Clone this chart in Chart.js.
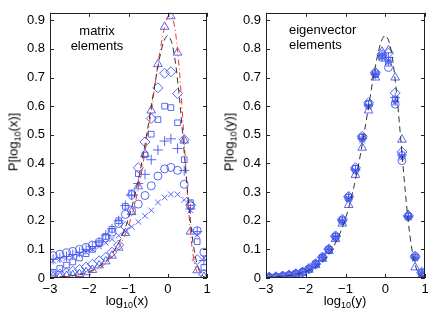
<!DOCTYPE html>
<html>
<head>
<meta charset="utf-8">
<script src="https://cdn.jsdelivr.net/npm/chart.js@4.4.1/dist/chart.umd.min.js"></script>
<style>
  html, body { margin: 0; padding: 0; background: #fff; }
  #wrap { position: relative; width: 436px; height: 316px; font-family: 'Liberation Sans', Arial, sans-serif; color: #000; }
  canvas { position: absolute; top: 0; }
  #left { left: 0; }
  #right { left: 216px; }
  .lbl { position: absolute; font-size: 13px; line-height: 13px; white-space: nowrap; }
  .lbl sub { font-size: 9px; vertical-align: -3px; line-height: 0; }
  .ylab { transform: translate(-50%, -50%) rotate(-90deg); }
  .xlab { transform: translateX(-50%); }
</style>
</head>
<body>
<div id="wrap">
  <canvas id="left" width="216" height="316"></canvas>
  <canvas id="right" width="220" height="316"></canvas>
  <div class="lbl ylab" style="left:13px; top:142px;">P[log<sub>10</sub>(x)]</div>
  <div class="lbl ylab" style="left:229px; top:142px;">P[log<sub>10</sub>(y)]</div>
  <div class="lbl xlab" style="left:127px; top:294px;">log<sub>10</sub>(x)</div>
  <div class="lbl xlab" style="left:345px; top:294px;">log<sub>10</sub>(y)</div>
  <div class="lbl" style="left:97px; top:23px; transform:translateX(-50%); text-align:center; line-height:15px;">matrix<br>elements</div>
  <div class="lbl" style="left:289px; top:22px; line-height:15px;">eigenvector<br>elements</div>
</div>
<script>
  // ── Data ──
  const BINS = [-2.92, -2.75, -2.58, -2.42, -2.25, -2.08, -1.92, -1.75, -1.58, -1.42, -1.25, -1.08,
                -0.92, -0.75, -0.58, -0.42, -0.25, -0.08, 0.08, 0.25, 0.42, 0.58, 0.75, 0.92];

  // matrix elements
  const MAT_TRI = [0.006, 0.005, 0.007, 0.010, 0.014, 0.020, 0.028, 0.044, 0.058, 0.078, 0.106, 0.157,
                   0.230, 0.320, 0.433, 0.585, 0.747, 0.877, 0.914, 0.787, 0.480, 0.162, 0.027, 0.004];
  const MAT_DIA = [0.012, 0.014, 0.018, 0.024, 0.030, 0.038, 0.048, 0.060, 0.072, 0.090, 0.115, 0.180,
                   0.290, 0.385, 0.475, 0.557, 0.664, 0.715, 0.720, 0.644, 0.483, 0.255, 0.064, 0.013];
  const MAT_SQR = [0.020, 0.033, 0.045, 0.056, 0.070, 0.085, 0.100, 0.120, 0.145, 0.170, 0.200, 0.250,
                   0.297, 0.364, 0.430, 0.502, 0.553, 0.600, 0.595, 0.542, 0.413, 0.263, 0.127, 0.037];
  const MAT_PLS = [0.065, 0.070, 0.075, 0.082, 0.090, 0.100, 0.110, 0.125, 0.150, 0.172, 0.200, 0.253,
                   0.290, 0.330, 0.362, 0.413, 0.447, 0.478, 0.486, 0.452, 0.375, 0.241, 0.162, 0.061];
  const MAT_CIR = [0.078, 0.083, 0.088, 0.093, 0.100, 0.107, 0.115, 0.125, 0.140, 0.160, 0.190, 0.222,
                   0.236, 0.258, 0.288, 0.322, 0.356, 0.381, 0.386, 0.376, 0.327, 0.252, 0.165, 0.090];
  const MAT_X   = [0.060, 0.065, 0.070, 0.075, 0.083, 0.090, 0.100, 0.110, 0.123, 0.135, 0.148, 0.163,
                   0.179, 0.196, 0.217, 0.236, 0.264, 0.281, 0.292, 0.292, 0.273, 0.236, 0.150, 0.070];

  // eigenvector elements
  const EIG_CIR = [0.002, 0.003, 0.006, 0.009, 0.014, 0.020, 0.031, 0.048, 0.071, 0.099, 0.144, 0.200,
                   0.280, 0.380, 0.490, 0.605, 0.714, 0.770, 0.735, 0.607, 0.410, 0.214, 0.075, 0.017];
  const EIG_SQR = [0.002, 0.004, 0.006, 0.010, 0.015, 0.021, 0.032, 0.049, 0.072, 0.100, 0.146, 0.203,
                   0.282, 0.383, 0.492, 0.610, 0.710, 0.775, 0.750, 0.625, 0.430, 0.216, 0.072, 0.018];
  const EIG_DIA = [0.003, 0.004, 0.007, 0.010, 0.015, 0.021, 0.033, 0.050, 0.073, 0.101, 0.147, 0.205,
                   0.285, 0.385, 0.495, 0.612, 0.718, 0.780, 0.785, 0.646, 0.440, 0.218, 0.076, 0.020];
  const EIG_TRI = [0.002, 0.003, 0.005, 0.008, 0.013, 0.019, 0.029, 0.045, 0.067, 0.094, 0.136, 0.190,
                   0.255, 0.360, 0.455, 0.585, 0.700, 0.790, 0.795, 0.700, 0.483, 0.220, 0.037, 0.010];
  const EIG_X   = [0.002, 0.003, 0.006, 0.009, 0.014, 0.020, 0.031, 0.047, 0.070, 0.098, 0.142, 0.198,
                   0.275, 0.372, 0.480, 0.598, 0.708, 0.772, 0.760, 0.610, 0.420, 0.212, 0.068, 0.015];
  const EIG_PLS = [0.002, 0.004, 0.006, 0.009, 0.014, 0.020, 0.032, 0.048, 0.071, 0.100, 0.145, 0.201,
                   0.283, 0.378, 0.487, 0.604, 0.712, 0.776, 0.770, 0.630, 0.430, 0.215, 0.070, 0.017];
  const EIG_AST = [0.003, 0.004, 0.006, 0.009, 0.014, 0.020, 0.031, 0.048, 0.071, 0.099, 0.143, 0.199,
                   0.278, 0.376, 0.486, 0.600, 0.712, 0.772, 0.755, 0.615, 0.425, 0.213, 0.072, 0.016];

  // theory curves
  const CURVE_X = [-3.0, -2.9, -2.8, -2.7, -2.6, -2.5, -2.4, -2.3, -2.2, -2.1, -2.0, -1.9, -1.8, -1.7,
                   -1.6, -1.5, -1.4, -1.3, -1.2, -1.1, -1.0, -0.9, -0.8, -0.7, -0.6, -0.5, -0.4, -0.3,
                   -0.2, -0.1, 0.0, 0.1, 0.2, 0.3, 0.4, 0.5, 0.6, 0.7, 0.8, 0.9, 1.0];
  const DASHED = [0.0023, 0.0029, 0.0036, 0.0046, 0.0058, 0.0073, 0.0091, 0.0115, 0.0144, 0.0181,
                  0.0228, 0.0286, 0.0359, 0.0450, 0.0564, 0.0705, 0.0880, 0.1097, 0.1364, 0.1689,
                  0.2083, 0.2556, 0.3115, 0.3763, 0.4499, 0.5307, 0.6156, 0.6991, 0.7731, 0.8265,
                  0.8471, 0.8232, 0.7480, 0.6248, 0.4693, 0.3082, 0.1711, 0.0768, 0.0264, 0.0065, 0.0011];
  const DASHDOT = [0.002, 0.003, 0.003, 0.004, 0.005, 0.006, 0.008, 0.010, 0.013, 0.016,
                   0.020, 0.025, 0.031, 0.039, 0.049, 0.061, 0.076, 0.095, 0.118, 0.147,
                   0.182, 0.225, 0.280, 0.345, 0.425, 0.510, 0.600, 0.700, 0.790, 0.865,
                   0.910, 0.915, 0.855, 0.720, 0.520, 0.300, 0.130, 0.040, 0.008, 0.001, 0.000];

  const X_TICKS = [-3, -2, -1, 0, 1];
  const X_LABELS = ['\u22123', '\u22122', '\u22121', '0', '1'];
  const Y_TICKS = [0, 0.1, 0.2, 0.3, 0.4, 0.5, 0.6, 0.7, 0.8, 0.9];
  const Y_LABELS = ['0', '0.1', '0.2', '0.3', '0.4', '0.5', '0.6', '0.7', '0.8', '0.9'];

  const BLUE = 'rgba(70, 90, 240, 0.9)';
  const TICK_FONT = { family: "'Liberation Sans', Arial, sans-serif", size: 13 };

  Chart.defaults.color = '#000';

  // ── Box with inward ticks, MATLAB style ──
  const frame = {
    id: 'frame',
    afterDatasetsDraw(chart) {
      const { ctx, chartArea: a, scales: { x, y } } = chart;
      ctx.save();
      ctx.strokeStyle = '#222';
      ctx.lineWidth = 1;
      ctx.beginPath();
      X_TICKS.forEach(v => {
        const px = Math.round(x.getPixelForValue(v)) + 0.5;
        ctx.moveTo(px, a.bottom); ctx.lineTo(px, a.bottom - 4);
        ctx.moveTo(px, a.top); ctx.lineTo(px, a.top + 4);
      });
      Y_TICKS.forEach(v => {
        const py = Math.round(y.getPixelForValue(v)) + 0.5;
        ctx.moveTo(a.left, py); ctx.lineTo(a.left + 4, py);
        ctx.moveTo(a.right, py); ctx.lineTo(a.right - 4, py);
      });
      ctx.stroke();
      ctx.strokeRect(Math.round(a.left) + 0.5, Math.round(a.top) + 0.5,
                     Math.round(a.right - a.left) - 1, Math.round(a.bottom - a.top) - 1);
      ctx.restore();
    }
  };

  function pts(xs, ys) {
    return xs.map((x, i) => ({ x, y: ys[i] }));
  }

  function markers(values, style, radius) {
    return {
      data: pts(BINS, values),
      pointStyle: style,
      pointRadius: radius || 4,
      borderColor: BLUE,
      backgroundColor: 'rgba(0,0,0,0)',
      pointBorderWidth: 1,
      showLine: false
    };
  }

  function curve(values, color, dash) {
    return {
      data: pts(CURVE_X, values),
      showLine: true,
      pointRadius: 0,
      borderColor: color,
      borderWidth: 1,
      borderDash: dash,
      tension: 0.3,
      fill: false
    };
  }

  function makeChart(id, datasets, padRight) {
    new Chart(document.getElementById(id), {
      type: 'scatter',
      data: { datasets },
      options: {
        responsive: false,
        animation: false,
        layout: { padding: { top: 4, right: padRight, left: 0, bottom: 0 } },
        plugins: { legend: { display: false }, tooltip: { enabled: false } },
        scales: {
          x: {
            type: 'linear', min: -3, max: 1,
            grid: { display: false, drawTicks: false }, border: { display: false },
            afterBuildTicks: s => { s.ticks = X_TICKS.map(v => ({ value: v })); },
            afterFit: s => { s.height = 38; },
            ticks: { padding: 4, maxRotation: 0, font: TICK_FONT, callback: v => X_LABELS[X_TICKS.indexOf(v)] }
          },
          y: {
            type: 'linear', min: 0, max: 0.926,
            grid: { display: false, drawTicks: false }, border: { display: false },
            afterBuildTicks: s => { s.ticks = Y_TICKS.map(v => ({ value: v })); },
            afterFit: s => { s.width = 50; },
            ticks: { padding: 5, font: TICK_FONT, callback: v => Y_LABELS[Y_TICKS.indexOf(v)] }
          }
        }
      },
      plugins: [frame]
    });
  }

  makeChart('left', [
    curve(DASHED, '#333', [6, 4]),
    curve(DASHDOT, '#ff3030', [6, 3, 1, 3]),
    markers(MAT_TRI, 'triangle', 5),
    markers(MAT_DIA, 'rectRot', 5),
    markers(MAT_SQR, 'rect', 4),
    markers(MAT_PLS, 'cross', 5),
    markers(MAT_CIR, 'circle', 4),
    markers(MAT_X, 'crossRot', 4)
  ], 9);

  makeChart('right', [
    curve(DASHED, '#333', [6, 4]),
    markers(EIG_TRI, 'triangle', 5),
    markers(EIG_DIA, 'rectRot', 5),
    markers(EIG_SQR, 'rect', 4),
    markers(EIG_PLS, 'cross', 5),
    markers(EIG_CIR, 'circle', 4),
    markers(EIG_X, 'crossRot', 4),
    markers(EIG_AST, 'star', 4)
  ], 11);
</script>
</body>
</html>
